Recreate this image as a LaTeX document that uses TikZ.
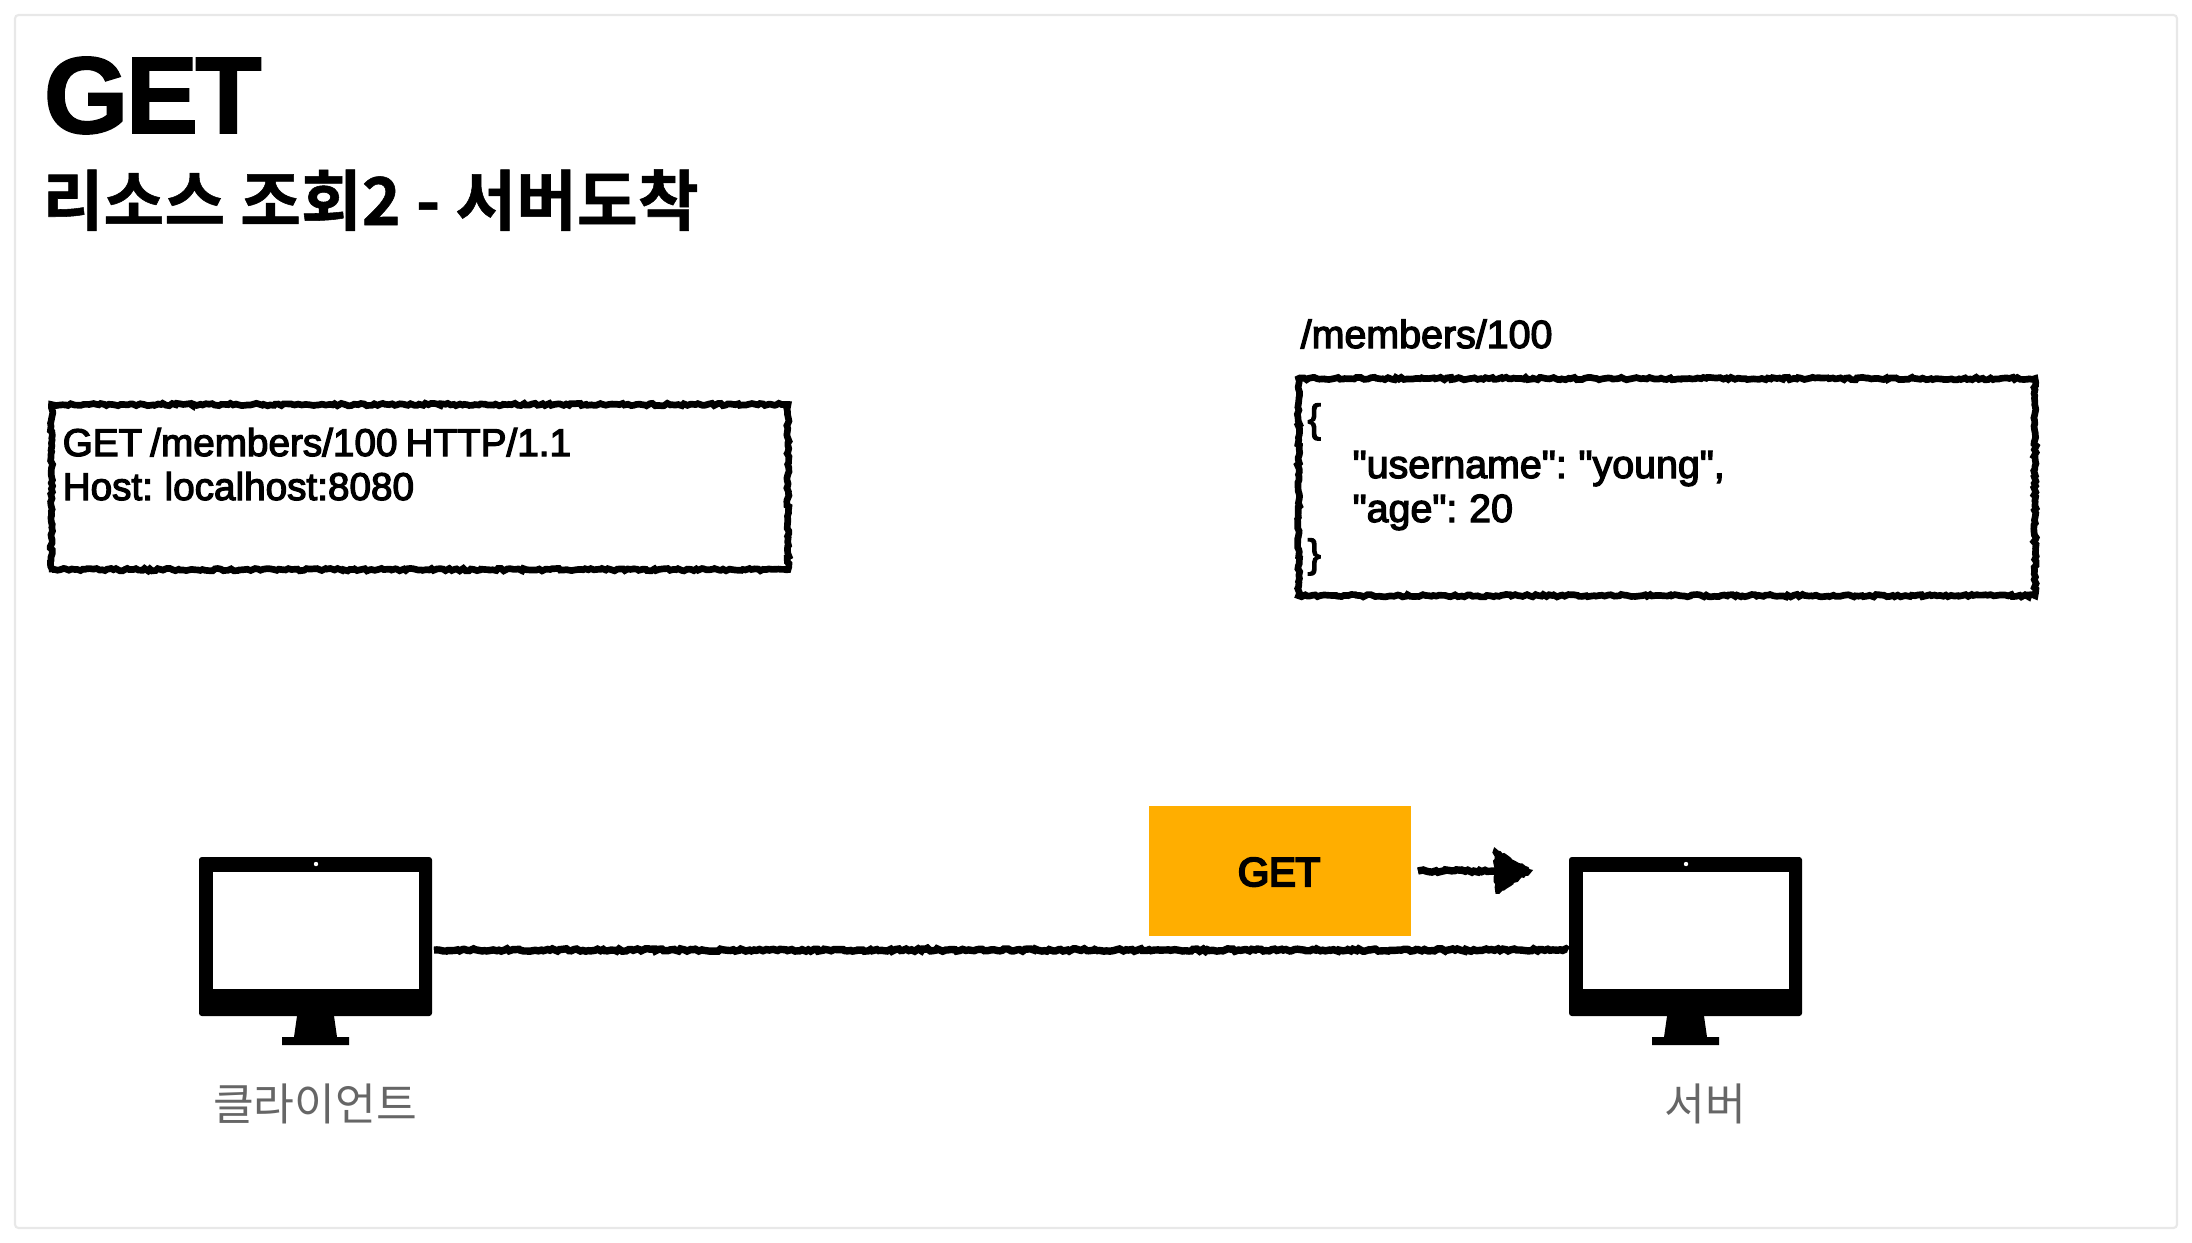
\documentclass[tikz,border=0pt]{standalone}
\usepackage{fontspec}
\usetikzlibrary{decorations.pathmorphing}
\setmainfont{Liberation Sans}
\newfontfamily\hbold[FakeBold=1.5,LetterSpace=-2.8]{Liberation Sans Bold}
\newfontfamily\hgetlabel[FakeBold=5,LetterSpace=-1]{Liberation Sans}
\newfontfamily\hmed[FakeBold=3.2,WordSpace=0.75]{Liberation Sans}
\newfontfamily\krbold[FakeBold=0.8]{Noto Sans CJK KR Bold}
\newfontfamily\krreg{Noto Sans CJK KR}
\definecolor{cardline}{HTML}{E8E8E8}
\definecolor{getfill}{HTML}{FFAE00}
\definecolor{labelgray}{HTML}{666666}
\pgfmathsetseed{7}
\tikzset{
  x=0.01cm,y=-0.01cm,
  chalk/.style={decorate,decoration={random steps,segment length=0.8pt,amplitude=0.35pt}},
  rough/.style={draw=black,line width=1.45pt,chalk,preaction={draw=black,line width=1.9pt,decorate,decoration={random steps,segment length=1pt,amplitude=0.55pt}}},
  roughline/.style={draw=black,line width=1.6pt,chalk,preaction={draw=black,line width=2.1pt,decorate,decoration={random steps,segment length=1pt,amplitude=0.55pt}}},
  bodytext/.style={anchor=base west,inner sep=0pt,font=\hmed\fontsize{11pt}{12.8pt}\selectfont,text=black},
  jsontext/.style={anchor=base west,inner sep=0pt,font=\hmed\fontsize{11.2pt}{12.8pt}\selectfont,text=black},
  devlabel/.style={anchor=base,inner sep=0pt,font=\krreg\fontsize{12.6pt}{14pt}\selectfont,text=labelgray},
}
\newcommand{\monitor}[2]{%
  \begin{scope}[shift={(#1,#2)}]
    \fill[black,rounded corners=0.8pt] (0,0) rectangle (233,159);
    \fill[white] (14,15) rectangle (220,132);
    \fill[white] (117,7) circle (2.2);
    \fill[black] (98,159) -- (135,159) -- (138,180) -- (150,180) -- (150,188) -- (83,188) -- (83,180) -- (95,180) -- cycle;
  \end{scope}}
\begin{document}
\begin{tikzpicture}
\useasboundingbox (0,0) rectangle (2192,1242);
\fill[white] (0,0) rectangle (2192,1242);
\draw[cardline,line width=0.6pt,rounded corners=1pt] (15,15) rectangle (2177,1228);

\node[anchor=base west,inner sep=0pt,font=\hbold\fontsize{31pt}{34pt}\selectfont] (title) at (43,133) {GET};
\node[anchor=base west,inner sep=0pt,font=\krbold\fontsize{18.8pt}{20pt}\selectfont] (subtitle) at (42,225) {리소스 조회2 - 서버도착};

\node[rough,anchor=north west,minimum width=7.36cm,minimum height=1.65cm,inner sep=0pt] (reqbox) at (49,402) {};
\node[bodytext] (req1) at (62,456) {GET /members/100 HTTP/1.1};
\node[bodytext] (req2) at (62,500) {Host: localhost:8080};

\node[jsontext] (path) at (1300,348) {/members/100};
\node[rough,anchor=north west,minimum width=7.36cm,minimum height=2.17cm,inner sep=0pt] (resbox) at (1296,376) {};
\node[jsontext] (res1) at (1307,432) {\{};
\node[jsontext] (res2) at (1352,478) {"username": "young",};
\node[jsontext] (res3) at (1352,522) {"age": 20};
\node[jsontext] (res4) at (1307,567) {\}};

\monitor{199}{857}
\monitor{1569}{857}
\coordinate (clientedge) at (434,950);
\coordinate (serveredge) at (1568,950);
\draw[roughline] (clientedge) -- (serveredge);

\node[fill=getfill,anchor=north west,minimum width=2.62cm,minimum height=1.30cm,inner sep=0pt] (getbox) at (1148,805) {};
\node[anchor=base,inner sep=0pt,font=\hgetlabel\fontsize{11.5pt}{14pt}\selectfont] (getlabel) at (1279,886) {GET};

\coordinate (arrowstart) at (1418,871);
\coordinate (arrowjoin) at (1497,871);
\coordinate (arrowtip) at (1530,871);
\draw[roughline] (arrowstart) -- (arrowjoin);
\fill[black] (1495,850) -- (arrowtip) -- (1497,892) -- cycle;
\draw[black,line width=1pt,chalk] (1495,850) -- (arrowtip) -- (1497,892) -- cycle;

\node[devlabel] (client) at (315,1120) {클라이언트};
\node[devlabel] (server) at (1705,1120) {서버};
\end{tikzpicture}
\end{document}
